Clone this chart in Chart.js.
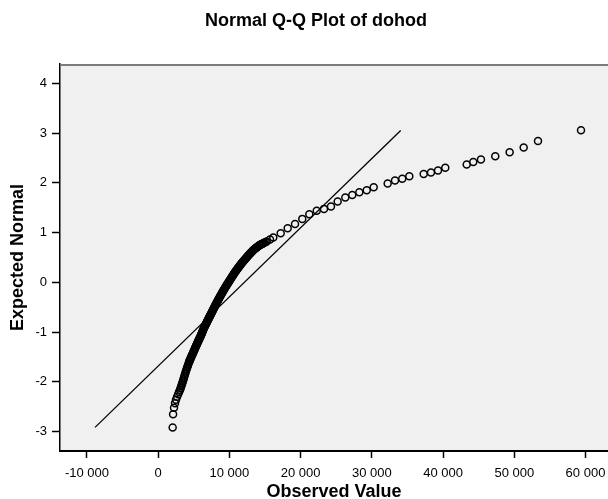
<!DOCTYPE html>
<html>
<head>
<meta charset="utf-8">
<title>Normal Q-Q Plot of dohod</title>
<script src="https://cdn.jsdelivr.net/npm/chart.js@4.4.1/dist/chart.umd.min.js"></script>
<style>
  html, body { margin: 0; padding: 0; background: #fff; overflow: hidden; }
  #wrap { position: relative; width: 608px; height: 499px; }
</style>
</head>
<body>
<div id="wrap"><canvas id="chart-qq" width="608" height="499"></canvas></div>
<script>
/* -------------------------------------------------- */
/* Data             */
/* -------------------------------------------------- */

const TITLE = 'Normal Q-Q Plot of dohod';
const X_TITLE = 'Observed Value';
const Y_TITLE = 'Expected Normal';

// observed value of each case
const OBSERVED = [
  2030, 2090, 2220, 2360, 2500, 2650, 2800, 2930,
  3061, 3142, 3224, 3305, 3387, 3468, 3543, 3616, 3689, 3763, 3836, 3909,
  3996, 4082, 4167, 4253, 4339, 4432, 4541, 4649, 4758, 4866, 4974, 5082,
  5190, 5297, 5405, 5516, 5630, 5744, 5858, 5968, 6068, 6169, 6270, 6371,
  6480, 6603, 6726, 6848, 6971, 7093, 7215, 7337, 7460, 7582, 7703, 7826,
  7947, 8071, 8204, 8336, 8469, 8601, 8738, 8879, 9020, 9161, 9302, 9449,
  9601, 9754, 9907, 10059, 10217, 10375, 10533, 10691, 10850, 11006, 11163,
  11319, 11476, 11633, 11804, 11985, 12166, 12346, 12527, 12687, 12847,
  13008, 13169, 13330, 13536, 13719, 13901, 14084, 14267, 14462, 14672,
  14883, 15094, 15234, 15700,
  16160, 17200, 18180, 19210, 20230, 21220, 22260, 23280, 24260, 25200,
  26270, 27250, 28240, 29280, 30260, 32220, 33250, 34270, 35260, 37280,
  38300, 39290, 40310, 43320, 44240, 45320, 47330, 49350, 51320, 53330,
  59370,
];

// expected normal score for the same cases
const EXPECTED = [
  -2.917, -2.648, -2.520, -2.430, -2.360, -2.300, -2.250, -2.200,
  -2.160, -2.125, -2.090, -2.055, -2.020, -1.985, -1.950, -1.915, -1.880, -1.845, -1.810, -1.775,
  -1.740, -1.705, -1.670, -1.635, -1.600, -1.565, -1.530, -1.495, -1.460, -1.425, -1.390, -1.355,
  -1.320, -1.285, -1.250, -1.215, -1.180, -1.145, -1.110, -1.075, -1.040, -1.005, -0.970, -0.935,
  -0.900, -0.865, -0.830, -0.795, -0.760, -0.725, -0.690, -0.655, -0.620, -0.585, -0.550, -0.515,
  -0.480, -0.445, -0.410, -0.375, -0.340, -0.305, -0.270, -0.235, -0.200, -0.165, -0.130, -0.095,
  -0.060, -0.025, 0.010, 0.045, 0.080, 0.115, 0.150, 0.185, 0.220, 0.250, 0.280,
  0.310, 0.340, 0.370, 0.400, 0.430, 0.460, 0.490, 0.520, 0.545, 0.570,
  0.595, 0.620, 0.645, 0.670, 0.690, 0.710, 0.730, 0.750, 0.765, 0.780,
  0.795, 0.810, 0.820, 0.860,
  0.900, 0.989, 1.089, 1.175, 1.276, 1.370, 1.437, 1.477, 1.523, 1.623,
  1.704, 1.758, 1.812, 1.853, 1.913, 1.985, 2.045, 2.080, 2.134, 2.180,
  2.206, 2.246, 2.301, 2.367, 2.421, 2.467, 2.536, 2.616, 2.708, 2.843,
  3.058,
];

// further cases packed into the solid middle of the band
const BAND_OBSERVED = [
  4385, 4486, 4595, 4703, 4812, 4920, 5028, 5136, 5243, 5351, 5460, 5573,
  5687, 5801, 5913, 6018, 6118, 6220, 6320, 6425, 6541, 6665, 6787, 6910,
  7032, 7154, 7276, 7398, 7521, 7642, 7765, 7886, 8009, 8137, 8270, 8402,
  8535, 8669, 8808, 8949, 9090, 9231, 9375, 9525, 9677, 9830, 9983, 10138,
  10296, 10454, 10612, 10770, 10928, 11084, 11241, 11397, 11554, 11718,
  11894, 12075, 12256, 12436, 12607, 12767, 12927, 13088, 13249, 13433,
  13627, 13810, 13992, 14175, 14365, 14567, 14777,
];
const BAND_EXPECTED = [
  -1.583, -1.548, -1.513, -1.478, -1.443, -1.408, -1.373, -1.338, -1.303, -1.268, -1.233, -1.198,
  -1.163, -1.128, -1.093, -1.058, -1.023, -0.988, -0.953, -0.918, -0.883, -0.848, -0.813, -0.778,
  -0.743, -0.708, -0.673, -0.638, -0.603, -0.568, -0.533, -0.498, -0.463, -0.428, -0.393, -0.358,
  -0.323, -0.288, -0.253, -0.218, -0.183, -0.148, -0.113, -0.078, -0.043, -0.008, 0.028, 0.063,
  0.098, 0.133, 0.168, 0.203, 0.235, 0.265, 0.295, 0.325, 0.355, 0.385,
  0.415, 0.445, 0.475, 0.505, 0.533, 0.558, 0.583, 0.608, 0.633, 0.658,
  0.680, 0.700, 0.720, 0.740, 0.758, 0.773, 0.788,
];

// reference line ends (observed, expected)
const LINE_X = [-8870, 34050];
const LINE_Y = [-2.913, 3.050];

// axis ranges and tick labels
const X_MIN = -13790;
const X_MAX = 63160;
const X_TICKS = [-10000, 0, 10000, 20000, 30000, 40000, 50000, 60000];
const Y_MIN = -3.388;
const Y_MAX = 4.388;
const Y_TICKS = [-3, -2, -1, 0, 1, 2, 3, 4];

const FONT = "'Liberation Sans', Arial, sans-serif";

/* -------------------------------------------------- */
/* Helpers */
/* -------------------------------------------------- */

function fmtThousands(v) {
  const s = Math.abs(v).toString().replace(/\B(?=(\d{3})+(?!\d))/g, ' ');
  return (v < 0 ? '-' : '') + s;
}

// grey plot background, top frame line and chart title
const plotFrame = {
  id: 'plotFrame',
  beforeDraw(chart) {
    const { ctx, chartArea: a } = chart;
    ctx.save();
    ctx.fillStyle = '#f0f0f0';
    ctx.fillRect(a.left, a.top, a.right - a.left, a.bottom - a.top);
    ctx.restore();
  },
  afterDraw(chart) {
    const { ctx, chartArea: a } = chart;
    ctx.save();
    ctx.strokeStyle = '#7c7c7c';
    ctx.lineWidth = 2;
    ctx.beginPath();
    ctx.moveTo(a.left, a.top + 1);
    ctx.lineTo(a.right, a.top + 1);
    ctx.stroke();

    ctx.fillStyle = '#000';
    ctx.font = 'bold 18px ' + FONT;
    ctx.textAlign = 'center';
    ctx.textBaseline = 'middle';
    ctx.fillText(TITLE, 316, 21);
    ctx.restore();
  },
};

/* -------------------------------------------------- */
/* Chart */
/* -------------------------------------------------- */

const points = OBSERVED.map((x, i) => ({ x, y: EXPECTED[i] }))
  .concat(BAND_OBSERVED.map((x, i) => ({ x, y: BAND_EXPECTED[i] })));
const linePts = LINE_X.map((x, i) => ({ x, y: LINE_Y[i] }));

const ctx = document.getElementById('chart-qq').getContext('2d');
new Chart(ctx, {
  type: 'scatter',
  data: {
    datasets: [
      {
        data: linePts,
        showLine: true,
        borderColor: '#000',
        borderWidth: 1.3,
        pointRadius: 0,
        fill: false,
      },
      {
        data: points,
        pointStyle: 'circle',
        pointRadius: 3.5,
        pointHoverRadius: 3.5,
        pointBorderWidth: 1.5,
        pointBorderColor: '#000',
        pointBackgroundColor: 'rgba(0,0,0,0)',
      },
    ],
  },
  options: {
    responsive: false,
    animation: false,
    events: [],
    layout: { autoPadding: false, padding: { top: 64, right: 0, bottom: 0, left: 0 } },
    plugins: {
      legend: { display: false },
      tooltip: { enabled: false },
    },
    scales: {
      x: {
        type: 'linear',
        min: X_MIN,
        max: X_MAX,
        border: { display: true, color: '#000', width: 2 },
        grid: { drawOnChartArea: false, drawTicks: true, tickLength: 7, color: '#000', tickColor: '#000', tickWidth: 1.5 },
        ticks: {
          autoSkip: false,
          maxRotation: 0,
          color: '#000',
          padding: 8,
          font: { family: FONT, size: 13 },
          callback: v => fmtThousands(v),
        },
        afterBuildTicks: s => { s.ticks = X_TICKS.map(v => ({ value: v })); },
        title: {
          display: true,
          text: X_TITLE,
          color: '#000',
          padding: 0,
          font: { family: FONT, size: 18, weight: 'bold', lineHeight: 0.8 },
        },
        afterFit: s => { s.height = 48; s.paddingLeft = 0; s.paddingRight = 0; },
      },
      y: {
        type: 'linear',
        min: Y_MIN,
        max: Y_MAX,
        border: { display: true, color: '#000', width: 1.5 },
        grid: { drawOnChartArea: false, drawTicks: true, tickLength: 8, color: '#000', tickColor: '#000', tickWidth: 1.5 },
        ticks: {
          autoSkip: false,
          color: '#000',
          padding: 5,
          font: { family: FONT, size: 13 },
          callback: v => String(v),
        },
        afterBuildTicks: s => { s.ticks = Y_TICKS.map(v => ({ value: v })); },
        title: {
          display: true,
          text: Y_TITLE,
          color: '#000',
          padding: { top: 7, bottom: 0 },
          font: { family: FONT, size: 18, weight: 'bold', lineHeight: 1.2 },
        },
        afterFit: s => { s.width = 60; s.paddingTop = 0; s.paddingBottom = 0; },
      },
    },
  },
  plugins: [plotFrame],
});
</script>
</body>
</html>
